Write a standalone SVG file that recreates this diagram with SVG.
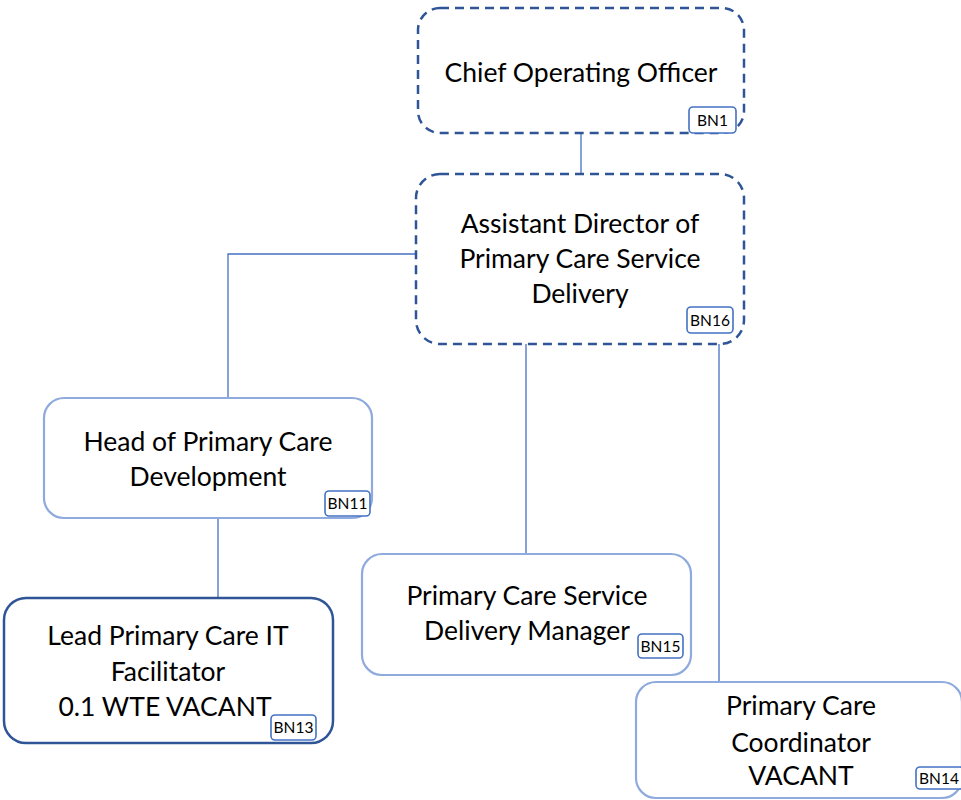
<svg xmlns="http://www.w3.org/2000/svg" width="961" height="800" viewBox="0 0 961 800">
<style>
.dash{fill:#fff;stroke:#2F5597;stroke-width:2.5;stroke-dasharray:9 6}
.light{fill:#fff;stroke:#8FAADC;stroke-width:2.2}
.dark{fill:#fff;stroke:#2F5597;stroke-width:2.5}
.badge{fill:#fff;stroke:#4472C4;stroke-width:1.6}
.t{font-family:Lato,"Liberation Sans",sans-serif;font-size:26.5px;fill:#000;text-anchor:middle}
.b{font-family:Lato,"Liberation Sans",sans-serif;font-size:15.5px;fill:#000;text-anchor:middle}
.c{fill:none;stroke:#4472C4;stroke-width:1.3}
</style>
<rect width="961" height="800" fill="#fff"/>
<g id="connectors">
<path class="c" d="M581 133V174"/>
<path class="c" d="M416 254H228V398"/>
<path class="c" d="M218 518V598"/>
<path class="c" d="M526 344V554"/>
<path class="c" d="M719 344V682"/>
</g>
<g id="coo">
<rect class="dash" x="418" y="8" width="326" height="125" rx="22"/>
<text class="t" x="581" y="82">Chief Operating Officer</text>
<rect class="badge" x="689" y="107" width="47" height="26" rx="4"/>
<text class="b" x="712.5" y="126">BN1</text>
</g>
<g id="ad">
<rect class="dash" x="416" y="174" width="328" height="170" rx="24"/>
<text class="t" x="580" y="233">Assistant Director of</text>
<text class="t" x="580" y="268">Primary Care Service</text>
<text class="t" x="580" y="303">Delivery</text>
<rect class="badge" x="687" y="307" width="46" height="26" rx="4"/>
<text class="b" x="710" y="326">BN16</text>
</g>
<g id="head">
<rect class="light" x="44" y="398" width="328" height="120" rx="20"/>
<text class="t" x="208" y="451">Head of Primary Care</text>
<text class="t" x="208" y="486">Development</text>
<rect class="badge" x="325" y="491" width="45" height="25" rx="4"/>
<text class="b" x="347.5" y="509">BN11</text>
</g>
<g id="lead">
<rect class="dark" x="4" y="598" width="329" height="145" rx="22"/>
<text class="t" x="168" y="645">Lead Primary Care IT</text>
<text class="t" x="168" y="681">Facilitator</text>
<text class="t" x="165" y="716">0.1 WTE VACANT</text>
<rect class="badge" x="271" y="715" width="45" height="25" rx="4"/>
<text class="b" x="293.5" y="733">BN13</text>
</g>
<g id="pcsdm">
<rect class="light" x="362" y="554" width="329" height="121" rx="20"/>
<text class="t" x="527" y="605">Primary Care Service</text>
<text class="t" x="527" y="640">Delivery Manager</text>
<rect class="badge" x="638" y="634" width="45" height="24" rx="4"/>
<text class="b" x="660.5" y="652">BN15</text>
</g>
<g id="coord">
<rect class="light" x="636" y="682" width="326" height="116" rx="20"/>
<text class="t" x="801" y="715">Primary Care</text>
<text class="t" x="801" y="752">Coordinator</text>
<text class="t" x="801" y="785">VACANT</text>
<rect class="badge" x="916" y="767" width="48" height="22" rx="4"/>
<text class="b" x="939" y="784">BN14</text>
</g>
</svg>
